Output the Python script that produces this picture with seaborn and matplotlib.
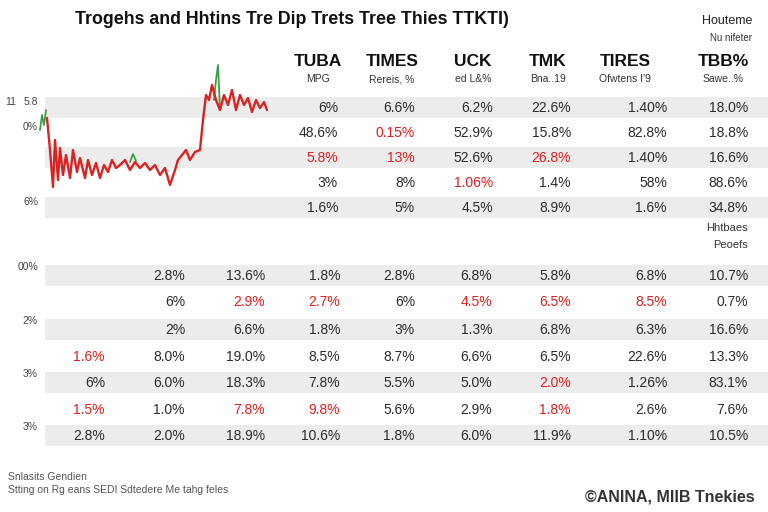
import matplotlib
matplotlib.use("Agg")
import matplotlib.pyplot as plt
import seaborn as sns
import pandas as pd

# ---- data ----
title = "Trogehs and Hhtins Tre Dip Trets Tree Thies TTKTI)"
corner_note = ["Houteme", "Nu nifeter"]

col_heads = ["TUBA", "TIMES", "UCK", "TMK", "TIRES", "TBB%"]
col_subs = ["MPG", "Rereis, %", "ed L&%", "Bna..19", "Ofwtens I'9", "Sawe..%"]

upper_vals = [
    ["6%", "6.6%", "6.2%", "22.6%", "1.40%", "18.0%"],
    ["48.6%", "0.15%", "52.9%", "15.8%", "82.8%", "18.8%"],
    ["5.8%", "13%", "52.6%", "26.8%", "1.40%", "16.6%"],
    ["3%", "8%", "1.06%", "1.4%", "58%", "88.6%"],
    ["1.6%", "5%", "4.5%", "8.9%", "1.6%", "34.8%"],
]
upper_red = [
    [0, 0, 0, 0, 0, 0],
    [0, 1, 0, 0, 0, 0],
    [1, 1, 0, 1, 0, 0],
    [0, 0, 1, 0, 0, 0],
    [0, 0, 0, 0, 0, 0],
]
upper_side = ["5.8", "0%", "", "", "6%"]
side_note = ["Hhtbaes", "Peoefs"]

lower_vals = [
    ["", "2.8%", "13.6%", "1.8%", "2.8%", "6.8%", "5.8%", "6.8%", "10.7%"],
    ["", "6%", "2.9%", "2.7%", "6%", "4.5%", "6.5%", "8.5%", "0.7%"],
    ["", "2%", "6.6%", "1.8%", "3%", "1.3%", "6.8%", "6.3%", "16.6%"],
    ["1.6%", "8.0%", "19.0%", "8.5%", "8.7%", "6.6%", "6.5%", "22.6%", "13.3%"],
    ["6%", "6.0%", "18.3%", "7.8%", "5.5%", "5.0%", "2.0%", "1.26%", "83.1%"],
    ["1.5%", "1.0%", "7.8%", "9.8%", "5.6%", "2.9%", "1.8%", "2.6%", "7.6%"],
    ["2.8%", "2.0%", "18.9%", "10.6%", "1.8%", "6.0%", "11.9%", "1.10%", "10.5%"],
]
lower_red = [
    [0, 0, 0, 0, 0, 0, 0, 0, 0],
    [0, 0, 1, 1, 0, 1, 1, 1, 0],
    [0, 0, 0, 0, 0, 0, 0, 0, 0],
    [1, 0, 0, 0, 0, 0, 0, 0, 0],
    [0, 0, 0, 0, 0, 0, 1, 0, 0],
    [1, 0, 1, 1, 0, 0, 1, 0, 0],
    [0, 0, 0, 0, 0, 0, 0, 0, 0],
]
lower_side = ["00%", "", "2%", "", "3%", "", "3%"]

footer = ["Snlasits Gendien", "Stting on Rg eans SEDI Sdtedere Me tahg feles"]
credit = "©ANINA, MIIB Tnekies"

# price trace in the inset (day, level)
red_day = [47, 50, 53, 55, 58, 60, 63, 66, 70, 73, 77, 80, 85, 88, 92, 96, 100,
           104, 108, 112, 116, 120, 125, 130, 135, 140, 145, 150, 155, 160, 165,
           170, 175, 178, 182, 186, 190, 195, 200, 203, 206, 209, 212, 216, 220,
           224, 228, 232, 236, 240, 244, 248, 252, 256, 260, 264, 267]
red_lvl = [8.2, 5.0, 1.3, 6.0, 2.0, 5.2, 2.5, 4.5, 2.2, 5.0, 2.8, 4.2, 2.2, 4.0,
           2.5, 3.7, 2.2, 3.5, 2.8, 4.0, 3.2, 3.5, 4.0, 3.0, 3.8, 3.2, 3.7, 3.0,
           3.5, 2.5, 3.2, 1.5, 3.0, 4.0, 4.5, 5.0, 4.0, 4.8, 5.0, 8.0, 10.5,
           10.0, 11.5, 10.0, 9.0, 10.5, 9.5, 11.0, 9.0, 10.5, 9.5, 10.2, 8.8,
           10.0, 9.2, 9.8, 9.0]
green_day = [40, 42, 44, 46, 130, 133, 136, 214, 216, 218, 220]
green_lvl = [7.0, 8.5, 7.5, 9.0, 3.8, 4.6, 3.9, 10.0, 12.0, 13.5, 9.0]
green_seg = [0, 0, 0, 0, 1, 1, 1, 2, 2, 2, 2]

# ---- layout (pixels on a 768x512 canvas) ----
W, H = 768, 512
band_x0 = 45
band_h = 21
upper_rows_y = [107, 132, 157, 182, 207]
lower_rows_y = [275, 301, 329, 356, 382, 409, 435]
upper_cols_x = [338, 415, 493, 571, 667, 748]
lower_cols_x = [105, 185, 265, 340, 415, 492, 571, 667, 748]
head_cx = [318, 392, 473, 548, 625, 723]

INK = "#2b2b2b"
RED = "#e41e1e"
BAND = "#ececec"

sns.set_theme(style="white")
plt.rcParams["font.family"] = ["Liberation Sans", "DejaVu Sans"]

fig = plt.figure(figsize=(7.68, 5.12), dpi=100)
canvas = fig.add_axes([0, 0, 1, 1])
canvas.set_xlim(0, W)
canvas.set_ylim(H, 0)
canvas.axis("off")

# alternating grey bands
for rows in (upper_rows_y, lower_rows_y):
    for i, y in enumerate(rows):
        if i % 2 == 0:
            canvas.axhspan(y - band_h / 2, y + band_h / 2, xmin=band_x0 / W, xmax=1,
                           color=BAND, lw=0, zorder=0)

canvas.text(75, 20, title, fontsize=12.8, fontweight="bold", color="#111", va="center")
canvas.text(752, 21, corner_note[0], fontsize=9, color="#222", ha="right", va="center")
canvas.text(752, 38, corner_note[1], fontsize=7, color="#333", ha="right", va="center")

for cx, h, s in zip(head_cx, col_heads, col_subs):
    canvas.text(cx, 62, h, fontsize=12.5, fontweight="bold", ha="center", va="center",
                color="#111")
    canvas.text(cx, 79, s, fontsize=7.5, ha="center", va="center", color="#333")

for r, y in enumerate(upper_rows_y):
    for c, x in enumerate(upper_cols_x):
        canvas.text(x, y + 1, upper_vals[r][c], fontsize=10, ha="right", va="center",
                    color=RED if upper_red[r][c] else INK)
    if upper_side[r]:
        canvas.text(38, y - 5, upper_side[r], fontsize=7.5, ha="right", va="center", color="#444")
canvas.text(5, 102, "11", fontsize=7.5, va="center", color="#444")

canvas.text(748, 228, side_note[0], fontsize=8, ha="right", va="center", color="#333")
canvas.text(748, 245, side_note[1], fontsize=8, ha="right", va="center", color="#333")

for r, y in enumerate(lower_rows_y):
    for c, x in enumerate(lower_cols_x):
        if lower_vals[r][c]:
            canvas.text(x, y + 1, lower_vals[r][c], fontsize=10, ha="right", va="center",
                        color=RED if lower_red[r][c] else INK)
    if lower_side[r]:
        canvas.text(38, y - 8, lower_side[r], fontsize=7.5, ha="right", va="center", color="#444")

canvas.text(8, 477, footer[0], fontsize=7.5, color="#555", va="center")
canvas.text(8, 490, footer[1], fontsize=7.5, color="#555", va="center")
canvas.text(755, 497, credit, fontsize=11.5, fontweight="bold", color="#333",
            ha="right", va="center")

# inset price trace
left, right, top, bottom = 38, 270, 60, 190
ax = fig.add_axes([left / W, 1 - bottom / H, (right - left) / W, (bottom - top) / H])
ax.patch.set_alpha(0)
green_df = pd.DataFrame({"day": green_day, "lvl": green_lvl, "seg": green_seg})
sns.lineplot(data=green_df, x="day", y="lvl", units="seg", estimator=None,
             color="#3aa043", lw=1.3, ax=ax)
red_df = pd.DataFrame({"day": red_day, "lvl": red_lvl})
sns.lineplot(data=red_df, x="day", y="lvl", color="#d92222", lw=1.7, ax=ax)
ax.set_xlim(left, right)
ax.set_ylim((200 - bottom) / 10, (200 - top) / 10)
ax.axis("off")

fig.savefig("out.png", dpi=100)
